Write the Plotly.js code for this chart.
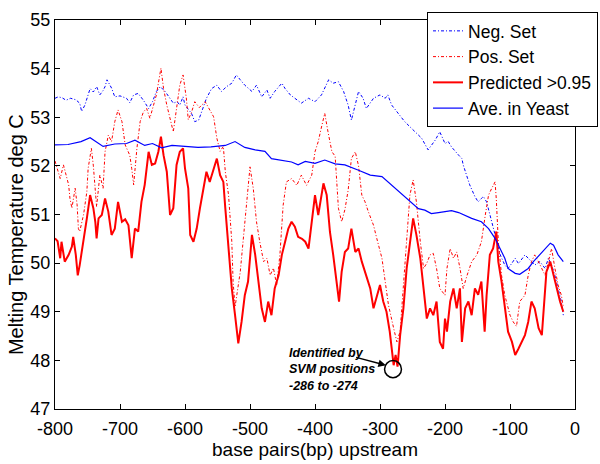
<!DOCTYPE html>
<html>
<head>
<meta charset="utf-8">
<script src="https://cdn.plot.ly/plotly-3.0.1.min.js"></script>
<style>html,body{margin:0;padding:0;background:#fff;}#chart{width:600px;height:464px;}</style>
</head>
<body>
<div id="chart"></div>
<script>
// ---- Data ----
const seriesNames = ["Neg. Set", "Pos. Set", "Predicted >0.95", "Ave. in Yeast"];

const negX = [-800,-795,-789,-783,-776,-768,-762,-759,-754,-751,-746,-741,-736,-731,-726,-723,-720,-713,-708,-700,-690,-685,-679,-672,-664,-656,-650,-644,-638,-630,-623,-618,-612,-608,-603,-600,-590,-585,-579,-572,-567,-559,-551,-544,-536,-528,-521,-515,-508,-497,-490,-482,-474,-469,-462,-451,-446,-438,-431,-421,-410,-400,-390,-379,-372,-364,-356,-349,-344,-338,-333,-326,-321,-310,-300,-292,-288,-282,-274,-262,-246,-236,-226,-215,-208,-200,-195,-190,-179,-174,-172,-167,-162,-154,-149,-144,-141,-136,-131,-126,-121,-115,-108,-103,-97,-92,-87,-77,-69,-62,-54,-46,-41,-36,-31,-26,-21,-18];
const negY = [53.39,53.42,53.40,53.35,53.39,53.36,53.29,53.12,53.25,53.39,53.59,53.52,53.63,53.46,53.55,53.63,53.77,53.60,53.42,53.44,53.39,53.30,53.46,53.49,53.35,53.18,53.32,53.53,53.63,53.52,53.39,53.29,53.32,53.25,53.42,53.25,53.08,52.91,52.94,53.18,53.39,53.59,53.66,53.53,53.63,53.70,53.87,53.77,53.66,53.53,53.66,53.42,53.56,53.39,53.53,53.70,53.59,53.46,53.39,53.29,53.39,53.32,53.46,53.77,53.70,53.73,53.53,53.25,52.94,53.25,53.53,53.39,53.18,53.39,53.46,53.39,53.46,53.25,53.11,52.91,52.70,52.57,52.33,52.53,52.70,52.46,52.50,52.39,52.22,52.15,52.02,51.81,51.61,51.37,51.26,51.33,51.37,51.26,50.99,50.71,50.44,50.17,49.96,49.89,50.00,50.10,49.99,50.17,50.06,49.96,50.03,49.89,50.10,49.96,49.75,49.48,49.21,48.93];

const posX = [-800,-797,-792,-787,-783,-779,-777,-774,-769,-766,-764,-762,-756,-751,-749,-744,-741,-738,-736,-731,-726,-723,-718,-713,-708,-703,-697,-692,-685,-682,-679,-674,-672,-669,-664,-659,-654,-649,-644,-637,-633,-628,-623,-618,-613,-608,-603,-598,-595,-590,-585,-578,-569,-562,-556,-551,-546,-541,-538,-533,-528,-526,-523,-515,-508,-500,-495,-490,-485,-479,-474,-469,-464,-459,-454,-449,-444,-436,-428,-421,-413,-405,-400,-395,-390,-385,-380,-374,-369,-364,-359,-354,-349,-344,-338,-333,-328,-323,-318,-310,-305,-297,-292,-287,-279,-274,-269,-264,-259,-254,-249,-244,-238,-233,-228,-223,-218,-213,-208,-200,-197,-192,-187,-182,-177,-172,-166,-159,-151,-144,-138,-133,-128,-123,-121,-118,-113,-108,-100,-95,-90,-85,-77,-72,-67,-62,-57,-51,-46,-41,-36,-31,-26,-21,-18];
const posY = [52.10,51.98,51.74,52.02,51.80,51.61,51.33,51.13,51.54,51.20,50.71,50.65,51.00,51.47,51.95,52.36,52.00,51.54,51.16,51.81,51.54,52.29,52.63,52.50,52.91,53.15,52.91,52.43,52.22,51.95,51.61,52.36,52.63,52.91,53.11,53.18,52.98,53.25,53.46,54.01,53.59,53.25,52.98,52.70,53.18,53.66,53.87,53.40,52.95,53.10,53.32,53.20,53.32,53.15,53.01,52.57,52.30,52.40,51.88,51.40,50.44,49.62,49.10,49.82,50.85,51.98,51.54,50.85,50.44,50.03,50.10,49.75,49.90,49.55,50.17,51.19,51.67,51.74,51.60,51.81,51.60,51.81,52.29,52.50,52.80,53.08,52.70,52.29,52.20,51.13,50.85,51.10,51.50,52.15,52.29,52.00,51.40,51.26,51.06,50.78,50.51,50.10,49.62,49.14,48.66,48.38,48.60,49.48,50.44,51.40,51.71,51.26,50.44,49.89,50.00,50.17,50.20,49.89,49.48,49.34,49.89,50.30,50.10,50.23,49.90,49.48,49.75,50.03,50.17,50.44,50.99,51.40,51.54,51.67,51.30,50.44,49.75,49.34,48.93,48.79,48.70,49.21,49.34,49.75,50.03,50.17,50.05,49.89,49.75,50.03,50.30,49.90,49.55,49.34,49.10];

const predX = [-800,-796,-792,-790,-785,-779,-774,-772,-768,-765,-762,-756,-751,-746,-741,-738,-736,-733,-728,-723,-718,-713,-708,-703,-697,-692,-687,-682,-677,-672,-667,-662,-656,-651,-646,-641,-637,-633,-628,-623,-618,-613,-608,-603,-600,-595,-592,-587,-582,-577,-572,-567,-562,-556,-551,-546,-541,-538,-533,-528,-523,-518,-513,-508,-503,-497,-492,-487,-482,-477,-472,-467,-462,-456,-451,-446,-441,-436,-431,-426,-420,-415,-410,-405,-400,-395,-390,-387,-382,-377,-372,-367,-363,-359,-354,-349,-344,-338,-333,-328,-323,-315,-310,-305,-300,-295,-290,-285,-279,-276,-273,-269,-264,-259,-254,-249,-244,-238,-233,-228,-223,-218,-213,-208,-203,-200,-197,-192,-187,-182,-177,-174,-169,-164,-159,-154,-149,-144,-139,-136,-131,-126,-121,-118,-113,-108,-103,-97,-92,-87,-82,-77,-72,-67,-62,-56,-51,-46,-44,-38,-33,-28,-23,-18];
const predY = [50.51,50.45,50.10,50.44,50.03,50.17,50.34,50.54,50.17,49.75,49.96,50.44,50.92,51.40,51.13,50.85,50.51,50.92,50.99,51.33,51.06,50.58,50.71,51.26,50.85,50.90,50.78,50.10,50.71,50.65,51.26,51.61,52.29,52.02,52.05,52.29,52.60,52.22,51.88,50.99,51.13,52.02,52.29,52.36,51.95,51.54,50.58,50.44,50.71,51.13,51.54,51.88,51.67,51.95,52.15,51.81,51.67,51.13,50.23,49.48,48.93,48.35,48.79,49.34,49.62,50.58,50.17,49.62,49.07,48.79,49.21,48.93,49.48,49.75,50.17,50.44,50.71,50.85,50.75,50.54,50.50,50.44,50.30,50.85,51.40,50.99,51.40,51.64,51.40,50.64,50.17,49.62,49.21,49.82,50.23,50.30,50.71,50.23,50.30,50.03,49.82,49.48,49.07,49.34,49.55,49.21,49.00,48.59,47.90,48.11,47.87,48.52,49.07,49.89,50.44,50.92,50.58,50.10,49.48,48.86,49.07,48.93,49.21,48.38,48.24,48.86,48.59,49.21,49.48,49.07,49.48,48.38,49.07,49.21,48.93,49.48,49.35,49.62,48.59,49.34,50.17,50.30,50.65,50.03,49.62,49.07,48.59,48.38,48.11,48.24,48.38,48.52,48.79,49.21,49.07,48.66,48.52,49.34,49.82,50.03,49.75,49.48,49.21,49.00];

const aveX = [-800,-780,-760,-746,-726,-708,-690,-677,-662,-650,-636,-620,-600,-580,-560,-538,-523,-508,-492,-477,-467,-446,-436,-426,-415,-400,-385,-369,-354,-333,-315,-297,-282,-264,-251,-241,-231,-221,-210,-200,-190,-179,-159,-144,-133,-123,-115,-108,-103,-92,-85,-72,-64,-54,-46,-38,-33,-26,-18];
const aveY = [52.43,52.44,52.50,52.58,52.40,52.45,52.46,52.53,52.42,52.46,52.37,52.42,52.40,52.38,52.39,52.42,52.50,52.38,52.33,52.30,52.15,52.10,52.08,52.02,52.09,52.05,52.12,52.04,52.02,51.91,51.81,51.78,51.60,51.40,51.23,51.12,51.09,51.02,51.04,51.06,51.08,51.04,50.92,50.85,50.71,50.51,50.30,50.10,49.89,49.79,49.77,49.89,50.03,50.17,50.30,50.41,50.37,50.17,50.03];

const xTickVals = [-800,-700,-600,-500,-400,-300,-200,-100,0];
const yTickVals = [47,48,49,50,51,52,53,54,55];
const xTitle = "base pairs(bp) upstream";
const yTitle = "Melting Temperature deg C";
const noteLines = ["Identified by", "SVM positions", "-286 to -274"];
const svmStart = -286, svmEnd = -274;

// ---- Chart ----
const FONT = "Liberation Sans, Arial, Helvetica, sans-serif";
const traces = [
  {x: negX, y: negY, name: seriesNames[0], legendgroup: "a", type: "scatter", mode: "lines",
   line: {color: "#0000ff", width: 1, dash: "3px,2px,1px,2px"}},
  {x: posX, y: posY, name: seriesNames[1], legendgroup: "b", type: "scatter", mode: "lines",
   line: {color: "#ff0000", width: 1, dash: "3px,2px,1px,2px"}},
  {x: predX, y: predY, name: seriesNames[2], legendgroup: "c", type: "scatter", mode: "lines",
   line: {color: "#ff0000", width: 2}},
  {x: aveX, y: aveY, name: seriesNames[3], legendgroup: "d", type: "scatter", mode: "lines",
   line: {color: "#0000ff", width: 1.2}}
];

const axisCommon = {
  showline: true, linecolor: "#000", linewidth: 1, mirror: "ticks",
  ticks: "inside", ticklen: 5, tickcolor: "#000", showgrid: false, zeroline: false,
  tickfont: {family: FONT, size: 18, color: "#000"}
};

const layout = {
  width: 600, height: 464,
  margin: {l: 55, r: 25, t: 20, b: 55, autoexpand: false},
  paper_bgcolor: "#fff", plot_bgcolor: "#fff",
  font: {family: FONT, color: "#000"},
  xaxis: Object.assign({}, axisCommon, {
    range: [-800, 0], tickvals: xTickVals, ticktext: xTickVals.map(String),
    ticklabelstandoff: 3,
    title: {text: xTitle, font: {family: FONT, size: 19, color: "#000"}, standoff: 0}
  }),
  yaxis: Object.assign({}, axisCommon, {
    range: [47, 55], tickvals: yTickVals, ticktext: yTickVals.map(String)
  }),
  showlegend: true,
  legend: {
    x: 0.7154, y: 1.0206, xanchor: "left", yanchor: "top",
    bgcolor: "#fff", bordercolor: "#000", borderwidth: 1,
    font: {family: FONT, size: 17.5, color: "#000"},
    itemwidth: 30, tracegroupgap: 1, traceorder: "normal"
  },
  annotations: [
    {xref: "paper", yref: "paper", x: -0.075, y: 0.447, text: yTitle, textangle: -90,
     showarrow: false, xanchor: "center", yanchor: "middle",
     font: {family: FONT, size: 20, color: "#000"}},
    {xref: "x", yref: "y", x: -443, y: 47.82, text: noteLines.join("<br>"),
     showarrow: false, xanchor: "left", yanchor: "middle", align: "left",
     font: {family: FONT, size: 12.5, color: "#000", weight: "bold", style: "italic"}},
    {xref: "x", yref: "y", axref: "x", ayref: "y", x: -291, y: 47.9, ax: -339, ay: 48.07,
     text: "", showarrow: true, arrowhead: 2, arrowsize: 1, arrowwidth: 1.5, arrowcolor: "#000"}
  ],
  shapes: [
    {type: "circle", xref: "x", yref: "y",
     x0: (svmStart + svmEnd) / 2 - 13, x1: (svmStart + svmEnd) / 2 + 13,
     y0: 47.645, y1: 47.995, line: {color: "#000", width: 1.5}}
  ]
};

Plotly.newPlot("chart", traces, layout, {displayModeBar: false, staticPlot: true});
</script>
</body>
</html>
